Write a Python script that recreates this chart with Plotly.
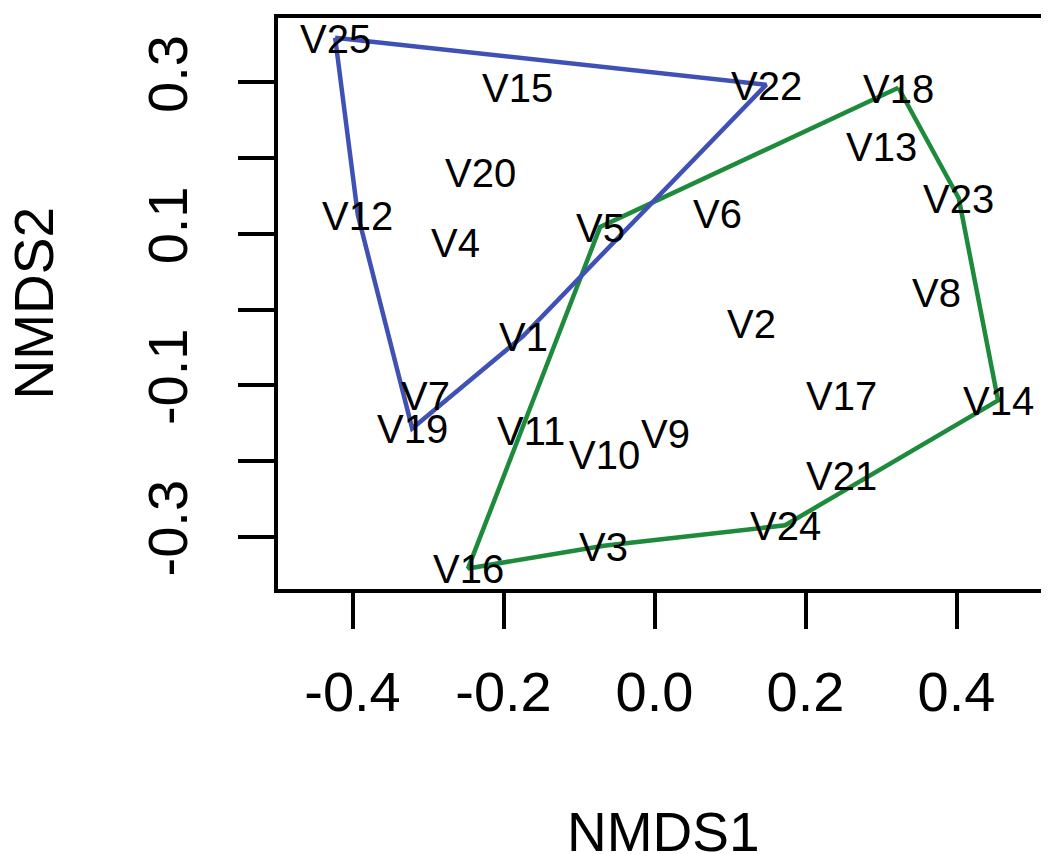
import plotly.graph_objects as go

# NMDS site scores
labels = ["V1", "V2", "V3", "V4", "V5", "V6", "V7", "V8", "V9", "V10",
          "V11", "V12", "V13", "V14", "V15", "V16", "V17", "V18", "V19", "V20",
          "V21", "V22", "V23", "V24", "V25"]
nmds1 = [-0.174, 0.129, -0.067, -0.264, -0.072, 0.084, -0.304, 0.374, 0.014, -0.066,
         -0.164, -0.393, 0.301, 0.455, -0.182, -0.247, 0.247, 0.323, -0.321, -0.230,
         0.248, 0.148, 0.403, 0.173, -0.423]
nmds2 = [-0.035, -0.018, -0.312, 0.089, 0.109, 0.128, -0.113, 0.023, -0.163, -0.191,
         -0.159, 0.125, 0.216, -0.120, 0.294, -0.342, -0.113, 0.293, -0.157, 0.182,
         -0.219, 0.297, 0.147, -0.285, 0.359]

# convex hull vertex order for the two groups
hull_blue = ["V25", "V22", "V1", "V19", "V12"]
hull_green = ["V18", "V23", "V14", "V24", "V3", "V16", "V5"]

x_ticks = [-0.4, -0.2, 0.0, 0.2, 0.4]
x_ticktext = ["-0.4", "-0.2", "0.0", "0.2", "0.4"]
y_ticks = [-0.3, -0.2, -0.1, 0.0, 0.1, 0.2, 0.3]
y_ticktext = ["-0.3", "", "-0.1", "", "0.1", "", "0.3"]
x_title = "NMDS1"
y_title = "NMDS2"

FONT = "Liberation Sans, Arial, Helvetica, sans-serif"
BLUE = "#3F51B5"
GREEN = "#1D8A3C"

pos = {lab: (x, y) for lab, x, y in zip(labels, nmds1, nmds2)}


def hull_xy(order):
    xs = [pos[k][0] for k in order] + [pos[order[0]][0]]
    ys = [pos[k][1] for k in order] + [pos[order[0]][1]]
    return xs, ys


fig = go.Figure()

# site labels as text placed at the NMDS scores
for lab, x, y in zip(labels, nmds1, nmds2):
    fig.add_annotation(x=x, y=y, xref="x", yref="y", text=lab, showarrow=False,
                       xanchor="center", yanchor="middle", yshift=-1,
                       font=dict(family=FONT, size=40, color="black"))

gx, gy = hull_xy(hull_green)
fig.add_trace(go.Scatter(x=gx, y=gy, mode="lines",
                         line=dict(color=GREEN, width=4.5), showlegend=False))
bx, by = hull_xy(hull_blue)
fig.add_trace(go.Scatter(x=bx, y=by, mode="lines",
                         line=dict(color=BLUE, width=4.5), showlegend=False))

# axis titles
fig.add_annotation(x=0.5, y=0, xref="paper", yref="paper", text=x_title,
                   showarrow=False, xanchor="center", yanchor="middle", yshift=-243,
                   font=dict(family=FONT, size=55, color="black"))
fig.add_annotation(x=0, y=0.5, xref="paper", yref="paper", text=y_title,
                   showarrow=False, xanchor="center", yanchor="middle", xshift=-245,
                   textangle=-90, font=dict(family=FONT, size=55, color="black"))

# the page body adds an 8 px offset, so the figure is 8 px smaller
fig.update_layout(
    width=1041, height=846,
    margin=dict(l=270, r=0, t=10, b=265, autoexpand=False),
    paper_bgcolor="white", plot_bgcolor="white",
    font=dict(family=FONT, color="black"),
    showlegend=False,
)
fig.update_xaxes(
    range=[-0.4987, 0.5225], tickvals=x_ticks, ticktext=x_ticktext,
    ticks="outside", ticklen=36, tickwidth=4, tickcolor="black",
    showline=True, linewidth=4, linecolor="black", mirror=True,
    showgrid=False, zeroline=False, automargin=False,
    tickfont=dict(family=FONT, size=56, color="black"),
    ticklabelstandoff=15,
)
fig.update_yaxes(
    range=[-0.3692, 0.3851], tickvals=y_ticks, ticktext=y_ticktext,
    tickangle=-90,
    ticks="outside", ticklen=36, tickwidth=4, tickcolor="black",
    showline=True, linewidth=4, linecolor="black", mirror=False,
    showgrid=False, zeroline=False, automargin=False,
    tickfont=dict(family=FONT, size=56, color="black"),
    ticklabelstandoff=29,
)

fig.write_html("out.html")
